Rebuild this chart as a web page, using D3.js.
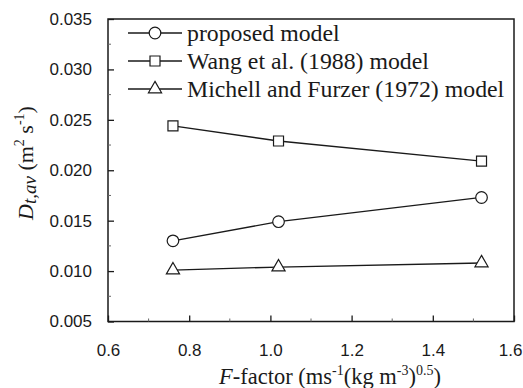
<!DOCTYPE html>
<html>
<head>
<meta charset="utf-8">
<script src="https://cdn.jsdelivr.net/npm/d3@7"></script>
<style>
  body { margin: 0; background: #fff; }
  svg { display: block; }
</style>
</head>
<body>
<svg id="chart"></svg>
<script>
var W = 523, H = 388;
var margin = {left: 108, right: 9, top: 19, bottom: 66.5};

// data
var fFactor = [0.76, 1.02, 1.52];
var proposed = [0.0130, 0.0149, 0.0173];
var wang = [0.0244, 0.0229, 0.0209];
var michell = [0.0101, 0.0104, 0.0108];
var seriesNames = ["proposed model", "Wang et al. (1988) model", "Michell and Furzer (1972) model"];
var seriesSymbols = ["circle", "square", "triangle"];
var xTicks = [0.6, 0.8, 1.0, 1.2, 1.4, 1.6];
var yTicks = [0.005, 0.010, 0.015, 0.020, 0.025, 0.030, 0.035];

var ink = "#1a1a1a";

window.onload = function(){
  var svg = d3.select('#chart').attr('width', W).attr('height', H);
  var x = d3.scaleLinear().domain([0.6, 1.6]).range([margin.left, W - margin.right]);
  var y = d3.scaleLinear().domain([0.005, 0.035]).range([H - margin.bottom, margin.top]);

  drawAxes(svg, x, y);

  var allSeries = [proposed, wang, michell];
  allSeries.forEach(function(vals, i){
    var pts = vals.map(function(v, j){ return {x: fFactor[j], y: v}; });
    svg.append('path')
      .datum(pts)
      .attr('fill', 'none')
      .attr('stroke', ink)
      .attr('stroke-width', 1.3)
      .attr('d', d3.line().x(function(d){ return x(d.x); }).y(function(d){ return y(d.y); }));
    svg.selectAll('.m' + i)
      .data(pts)
      .enter()
      .append('path')
      .attr('class', 'm' + i)
      .attr('transform', function(d){ return 'translate(' + x(d.x) + ',' + y(d.y) + ')'; })
      .attr('d', marker(seriesSymbols[i]))
      .attr('fill', '#fff')
      .attr('stroke', ink)
      .attr('stroke-width', 1.2);
  });

  drawLegend(svg);
  drawLabels(svg, x, y);
};

function marker(kind){
  if(kind === 'circle') return d3.symbol().type(d3.symbolCircle).size(Math.PI * 5.8 * 5.8)();
  if(kind === 'square') return d3.symbol().type(d3.symbolSquare).size(100)();
  return d3.symbol().type(d3.symbolTriangle).size(75)();
}

function drawAxes(svg, x, y){
  var x0 = x.range()[0], x1 = x.range()[1];
  var y0 = y.range()[0], y1 = y.range()[1];

  // frame
  svg.append('rect')
    .attr('x', x0).attr('y', y1)
    .attr('width', x1 - x0).attr('height', y0 - y1)
    .attr('fill', 'none').attr('stroke', ink).attr('stroke-width', 1.5);

  // minor ticks
  var xMinor = d3.range(0.7, 1.6, 0.2);
  svg.selectAll('.xminor').data(xMinor).enter().append('line')
    .attr('x1', function(d){ return x(d); }).attr('x2', function(d){ return x(d); })
    .attr('y1', y0).attr('y2', y0 - 3)
    .attr('stroke', '#666').attr('stroke-width', 1);
  var yMinor = d3.range(0.0075, 0.035, 0.005);
  svg.selectAll('.yminor').data(yMinor).enter().append('line')
    .attr('x1', x0).attr('x2', x0 + 3)
    .attr('y1', function(d){ return y(d); }).attr('y2', function(d){ return y(d); })
    .attr('stroke', '#666').attr('stroke-width', 1);

  var xAxis = d3.axisBottom(x).tickValues(xTicks).tickSizeInner(-6).tickSizeOuter(0)
    .tickPadding(22).tickFormat(d3.format('.1f'));
  var gx = svg.append('g').attr('transform', 'translate(0,' + y0 + ')').call(xAxis);
  gx.select('.domain').remove();
  gx.selectAll('line').attr('stroke', ink).attr('stroke-width', 1.3);
  gx.selectAll('text').attr('font-family', 'Liberation Sans, Arial, sans-serif')
    .attr('font-size', 17).attr('fill', ink);
  // last label sits right at the page edge
  gx.selectAll('.tick').filter(function(d){ return d === 1.6; }).select('text')
    .attr('text-anchor', 'end').attr('x', 8);

  var yAxis = d3.axisLeft(y).tickValues(yTicks).tickSizeInner(-6).tickSizeOuter(0)
    .tickPadding(16).tickFormat(d3.format('.3f'));
  var gy = svg.append('g').attr('transform', 'translate(' + x0 + ',0)').call(yAxis);
  gy.select('.domain').remove();
  gy.selectAll('line').attr('stroke', ink).attr('stroke-width', 1.3);
  gy.selectAll('text').attr('font-family', 'Liberation Sans, Arial, sans-serif')
    .attr('font-size', 17).attr('fill', ink);
}

function drawLegend(svg){
  var rowY = [33, 61, 89];
  var g = svg.append('g');
  seriesNames.forEach(function(name, i){
    var ry = rowY[i];
    g.append('line').attr('x1', 128).attr('x2', 182).attr('y1', ry).attr('y2', ry)
      .attr('stroke', ink).attr('stroke-width', 1.3);
    g.append('path').attr('transform', 'translate(155,' + ry + ')')
      .attr('d', marker(seriesSymbols[i]))
      .attr('fill', '#fff').attr('stroke', ink).attr('stroke-width', 1.2);
    g.append('text').attr('x', 187).attr('y', ry + 8)
      .attr('font-family', 'Liberation Serif, Times New Roman, serif')
      .attr('font-size', 23.8).attr('fill', ink)
      .text(name);
  });
}

function drawLabels(svg, x, y){
  var serif = 'Liberation Serif, Times New Roman, serif';
  // x label
  var xl = svg.append('text')
    .attr('x', 330).attr('y', 384)
    .attr('text-anchor', 'middle')
    .attr('font-family', serif).attr('font-size', 22.5).attr('fill', ink);
  xl.append('tspan').attr('font-style', 'italic').text('F');
  xl.append('tspan').text('-factor (ms');
  xl.append('tspan').attr('font-size', 14).attr('dy', -9).text('-1');
  xl.append('tspan').attr('dy', 9).text('(kg m');
  xl.append('tspan').attr('font-size', 14).attr('dy', -9).text('-3');
  xl.append('tspan').attr('dy', 9).text(')');
  xl.append('tspan').attr('font-size', 14).attr('dy', -9).text('0.5');
  xl.append('tspan').attr('dy', 9).text(')');

  // y label
  var yl = svg.append('text')
    .attr('transform', 'translate(33,163) rotate(-90)')
    .attr('text-anchor', 'middle')
    .attr('font-family', serif).attr('font-size', 22).attr('fill', ink);
  yl.append('tspan').attr('font-style', 'italic').text('D');
  yl.append('tspan').attr('font-style', 'italic').attr('font-size', 19).attr('dy', 3).text('t,av');
  yl.append('tspan').attr('dy', -3).text(' (m');
  yl.append('tspan').attr('font-size', 14).attr('dy', -9).text('2');
  yl.append('tspan').attr('dy', 9).text(' s');
  yl.append('tspan').attr('font-size', 14).attr('dy', -9).text('-1');
  yl.append('tspan').attr('dy', 9).text(')');
}
</script>
</body>
</html>
